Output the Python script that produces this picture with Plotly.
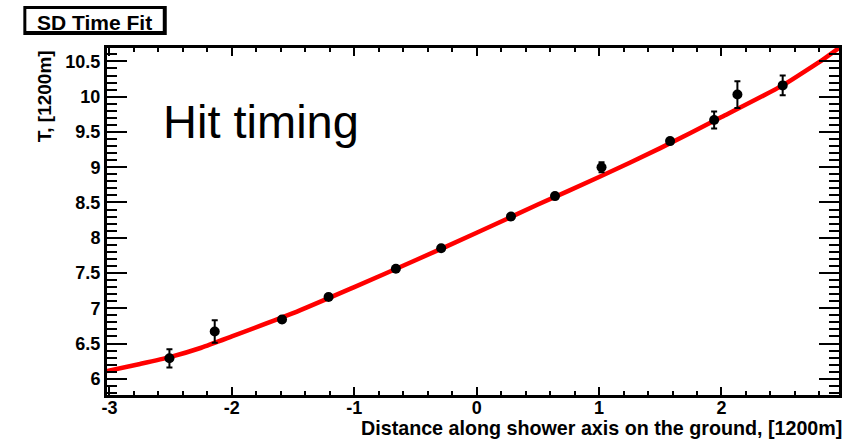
import plotly.graph_objects as go

# Data points (distance along shower axis [1200m], time [1200m], error)
dist = [-2.51, -2.14, -1.59, -1.21, -0.66, -0.29, 0.28, 0.64, 1.02, 1.58, 1.94, 2.13, 2.50]
time = [6.29, 6.67, 6.84, 7.16, 7.56, 7.85, 8.30, 8.59, 9.00, 9.37, 9.67, 10.03, 10.16]
terr = [0.13, 0.16, 0.04, 0.04, 0.04, 0.04, 0.04, 0.04, 0.07, 0.04, 0.12, 0.19, 0.14]

# Fit curve
fit_x = [-3.02, -2.75, -2.5, -2.25, -2.0, -1.5, -1.0, -0.5, 0.0, 0.5, 1.0, 1.5, 2.0, 2.5, 2.7, 2.84, 2.96]
fit_t = [6.11, 6.21, 6.31, 6.44, 6.60, 6.93, 7.30, 7.68, 8.07, 8.47, 8.86, 9.27, 9.71, 10.16, 10.38, 10.54, 10.69]

x_ticks = [-3, -2, -1, 0, 1, 2]
x_ticktext = ["-3", "-2", "-1", "0", "1", "2"]
y_ticks = [6, 6.5, 7, 7.5, 8, 8.5, 9, 9.5, 10, 10.5]
y_ticktext = ["6", "6.5", "7", "7.5", "8", "8.5", "9", "9.5", "10", "10.5"]

W, H = 851, 440
L, R, T, B = 107, 9, 48, 45
PW, PH = W - L - R, H - T - B


def px(xp):
    return (xp - L) / PW


def py(yp):
    return (H - B - yp) / PH


FONT = "Liberation Sans, Arial, sans-serif"

fig = go.Figure()
fig.add_trace(go.Scatter(
    x=fit_x, y=fit_t, mode="lines",
    line=dict(color="#ff0000", width=4.5, shape="spline", smoothing=0.6),
    showlegend=False, hoverinfo="skip"))
fig.add_trace(go.Scatter(
    x=dist, y=time, mode="markers",
    marker=dict(color="black", size=10),
    error_y=dict(type="data", array=terr, color="black", thickness=2, width=3),
    showlegend=False))

axis_common = dict(
    showline=True, linecolor="black", linewidth=3, mirror="ticks",
    ticks="inside", tickcolor="black", tickwidth=2,
    showgrid=False, zeroline=False,
    tickfont=dict(family=FONT, size=18, color="black", weight="bold"),
)

fig.update_xaxes(
    range=[-3.02, 2.96], tickvals=x_ticks, ticktext=x_ticktext, ticklen=8,
    ticklabelstandoff=-6,
    minor=dict(dtick=0.2, tick0=0, ticks="inside", ticklen=4, tickwidth=2, tickcolor="black"),
    **axis_common)
fig.update_yaxes(
    range=[5.77, 10.69], tickvals=y_ticks, ticktext=y_ticktext, ticklen=20,
    minor=dict(dtick=0.1, tick0=0, ticks="inside", ticklen=10, tickwidth=2, tickcolor="black"),
    **axis_common)

shapes = [
    dict(type="rect", xref="paper", yref="paper", x0=px(23), x1=px(167), y0=py(6), y1=py(35),
         fillcolor="black", line=dict(width=0), layer="above"),
    dict(type="rect", xref="paper", yref="paper", x0=px(26), x1=px(163), y0=py(9), y1=py(31),
         fillcolor="white", line=dict(width=0), layer="above"),
]

annotations = [
    dict(text="SD Time Fit", xref="paper", yref="paper", x=px(94), y=py(22),
         xanchor="center", yanchor="middle", showarrow=False,
         font=dict(family=FONT, size=21, color="black", weight="bold")),
    dict(text="Hit timing", xref="paper", yref="paper", x=px(161), y=py(121),
         xanchor="left", yanchor="middle", showarrow=False,
         font=dict(family=FONT, size=47, color="black")),
    dict(text="Distance along shower axis on the ground, [1200m]", xref="paper", yref="paper",
         x=px(847), y=py(415), xanchor="right", yanchor="top", showarrow=False,
         font=dict(family=FONT, size=19.7, color="black", weight="bold")),
    dict(text="T, [1200m]", xref="paper", yref="paper", x=px(44), y=py(48),
         xanchor="center", yanchor="top", textangle=-90, showarrow=False,
         font=dict(family=FONT, size=19, color="black", weight="bold")),
]

fig.update_layout(
    width=W, height=H, margin=dict(l=L, r=R, t=T, b=B),
    paper_bgcolor="white", plot_bgcolor="white",
    shapes=shapes, annotations=annotations, showlegend=False,
)

fig.write_html("out.html")
